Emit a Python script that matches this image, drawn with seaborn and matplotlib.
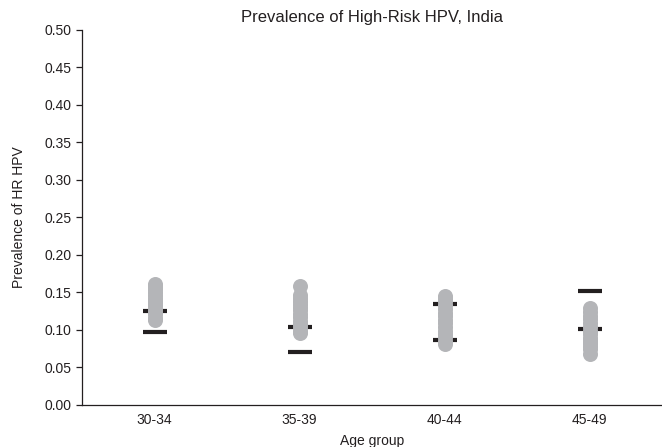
import pandas as pd
import numpy as np
import matplotlib
matplotlib.use("Agg")
import matplotlib.pyplot as plt
import seaborn as sns

# age groups on the x axis
age_groups = ["30-34", "35-39", "40-44", "45-49"]

# model prevalence values (gray dots)
model_3034 = [0.113, 0.116, 0.121, 0.125, 0.127, 0.132, 0.136, 0.139, 0.143, 0.147, 0.151, 0.154, 0.158, 0.161]
model_3539 = [0.096, 0.099, 0.104, 0.108, 0.112, 0.117, 0.121, 0.126, 0.130, 0.134, 0.139, 0.143, 0.147, 0.158]
model_4044 = [0.081, 0.085, 0.090, 0.095, 0.099, 0.104, 0.109, 0.113, 0.118, 0.123, 0.128, 0.133, 0.138, 0.142, 0.145]
model_4549 = [0.068, 0.074, 0.078, 0.082, 0.086, 0.089, 0.094, 0.099, 0.104, 0.109, 0.114, 0.119, 0.124, 0.129]

# observed bounds (black bars)
bar_low = [0.097, 0.071, 0.087, 0.101]
bar_high = [0.125, 0.104, 0.134, 0.152]

sns.set_style("white")
plt.rcParams["font.family"] = ["Liberation Sans", "DejaVu Sans"]

dots = pd.DataFrame({
    "age": ["30-34"] * len(model_3034) + ["35-39"] * len(model_3539)
           + ["40-44"] * len(model_4044) + ["45-49"] * len(model_4549),
    "prev": model_3034 + model_3539 + model_4044 + model_4549,
})
bars = pd.DataFrame({
    "age": age_groups * 2,
    "prev": bar_low + bar_high,
})

fig = plt.figure(figsize=(6.62, 4.47), dpi=100)
ax = fig.add_axes([0.124, 0.094, 0.876, 0.839])

# black bars first, gray dots drawn on top
sns.stripplot(data=bars, x="age", y="prev", order=age_groups, jitter=False,
              marker="_", s=17, linewidth=3, color="#231f20",
              edgecolor="#231f20", ax=ax)
sns.stripplot(data=dots, x="age", y="prev", order=age_groups, jitter=False,
              s=10.8, color="#b4b5b8", linewidth=0, ax=ax)

ax.set_xlim(-0.5, 3.5)
ax.set_ylim(0, 0.5)
ax.set_yticks(np.arange(0, 0.51, 0.05))
ax.set_yticklabels([f"{v:.2f}" for v in np.arange(0, 0.51, 0.05)])
ax.set_title("Prevalence of High-Risk HPV, India", fontsize=12, color="#231f20", pad=6)
ax.set_xlabel("Age group", fontsize=10, color="#231f20", labelpad=5)
ax.set_ylabel("Prevalence of HR HPV", fontsize=10, color="#231f20", labelpad=13)

for side in ["top", "right"]:
    ax.spines[side].set_visible(False)
for side in ["left", "bottom"]:
    ax.spines[side].set_color("#231f20")
    ax.spines[side].set_linewidth(0.9)
ax.tick_params(axis="y", left=True, length=4, width=0.9, color="#231f20",
               labelsize=10, labelcolor="#231f20")
ax.tick_params(axis="x", bottom=False, labelsize=10, labelcolor="#231f20", pad=2)

fig.savefig("out.png", dpi=100)
